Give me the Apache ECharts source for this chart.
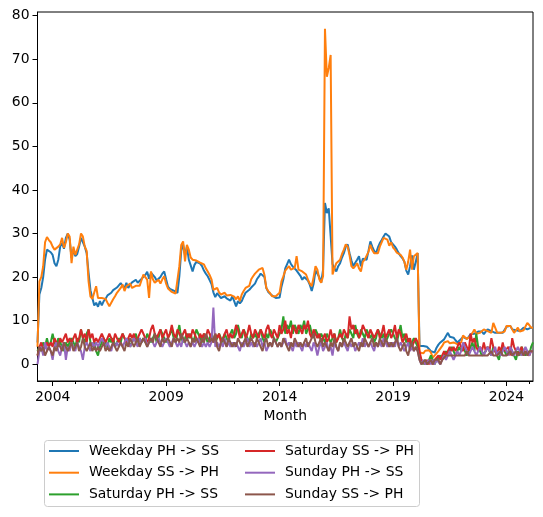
<!DOCTYPE html>
<html>
<head>
    <meta http-equiv="Content-Type" content="text/html; charset=UTF-8" />
    <title>Month</title>
    <script src="https://cdn.jsdelivr.net/npm/echarts@6/dist/echarts.min.js"></script>
    <style>
        html, body { margin: 0; padding: 0; background: #fff; }
    </style>
</head>
<body>
<div id="main" style="width: 543px;height:517px;"></div>
<script type="text/javascript">
    // monthly series, first month 2003-05, last month 2025-03
    var startYear = 2003;
    var startMonth = 5;

    var weekdayPhSs = [
        5, 16, 17.5, 20, 24, 26.3, 26, 25.7,
        25.1, 23.2, 22.5, 24, 27, 27.8, 26.5, 29, 30, 28.6, 24.4, 26.3,
        24.8, 25.3, 27, 29, 28.6, 27, 25.5, 21, 17, 15.2, 13.5, 14.1,
        13.2, 14.5, 13.5, 14.5, 15, 15.8, 15.6, 16.4, 17, 16.8, 17.6, 17.3,
        18.6, 18, 17.5, 18.7, 17.5, 18.3, 18.8, 19, 19.4, 18.7, 19, 19.6,
        20, 20.5, 21.2, 19.6, 21, 21.2, 20, 19.2, 18.9, 20, 20.8, 21.3,
        19.5, 17.8, 17.3, 17, 16.9, 16.6, 16.4, 20.2, 26, 27.5, 25, 27,
        24, 22.7, 21.3, 22.8, 23.5, 23.8, 23.1, 22.5, 21.5, 20.8, 20.2, 19.3,
        18.4, 16.5, 15.4, 16.3, 16, 15.2, 15.4, 15.6, 15.1, 14.8, 14.6, 15.6,
        14.5, 13.3, 14.5, 14, 14.5, 15.5, 16.4, 16.8, 17.1, 17.6, 18, 18.5,
        19.5, 20.1, 20.8, 21.2, 20, 17.5, 16.6, 16.8, 15.8, 15.4, 15.2, 15.2,
        15.3, 17.8, 19.5, 22, 23, 24, 23, 22.4, 22, 21.5, 21.1, 20.3,
        19.4, 20, 20, 19.2, 18.2, 16.8, 18.5, 21.5, 21.4, 20, 18.7, 21.7,
        37, 34.7, 35.8, 36, 23, 22, 21.3, 22.5, 23.2, 24.5, 25.5, 27,
        27.5, 25.5, 23.8, 22.5, 23.3, 24, 24.8, 22.5, 24.2, 24.2, 24, 26,
        28.2, 27, 26, 25.5, 26.8, 27.8, 28.5, 29.3, 30, 30.1, 29.3, 28,
        27.5, 27, 26.3, 25.5, 24.8, 24.3, 23.5, 21.5, 20.6, 22.5, 25, 21.7,
        23.5, 25.5, 4.2, 4.2, 4.2, 4.2, 4, 3.5, 3, 2.8, 2.7, 3.8,
        4.5, 5, 5.3, 5.7, 6.5, 7.2, 6.3, 6.1, 6.1, 5.5, 5, 5.4,
        5.8, 6.3, 6.3, 5.8, 6.3, 6.9, 6.9, 7, 7.2, 7.5, 7.9, 7.5,
        6.9, 7.5, 8, 7.8, 7.6, 7.3, 7.2, 7.2, 7.2, 7.2, 7.2, 7.5,
        8.6, 8.8, 8.8, 8, 7.6, 7.8, 8, 7.6, 7.8, 8.4, 8.2, 8,
        8.2, 8.4, 8.2
    ];
    var weekdaySsPh = [
        4, 19, 20, 22.5, 28, 29.2, 28.5, 28,
        27, 26.3, 26.3, 27, 27.5, 29, 26.7, 28, 30, 29.3, 23.2, 27,
        25.1, 25.3, 27.5, 30, 29.3, 27, 26, 19, 15.5, 15, 15.2, 17.9,
        15.2, 15.2, 15.2, 15.5, 15, 14.1, 13.3, 13.7, 14.9, 15.6, 16.4, 16,
        17.5, 18.3, 16.8, 17.9, 17.8, 18.5, 17.5, 17.9, 18, 18.3, 18, 17.9,
        20.6, 20, 19.4, 15.2, 21.3, 19.5, 18.7, 18.7, 19.4, 18.5, 19.5, 20.2,
        18.5, 17.4, 17, 16.6, 16.4, 16.2, 16, 22.5, 27.4, 28.2, 23.6, 27.4,
        26.3, 24.5, 24, 23.6, 23.8, 24, 23.3, 23, 22.9, 22, 21.3, 20.5,
        19.5, 17.1, 17.3, 17.5, 16.5, 16, 16.2, 16.4, 15.8, 15.6, 15.9, 16,
        15.5, 14.9, 15.6, 14.5, 16, 16.8, 17.5, 17.8, 18, 19.5, 20.2, 20.8,
        21.2, 21.7, 22, 22.1, 20.5, 17.5, 16.8, 16.3, 15.6, 15.6, 15.6, 16,
        16.4, 19, 20.2, 21.5, 22, 22.5, 21.7, 22, 22.1, 24.8, 21.7, 21.7,
        21.3, 21, 20.6, 19.4, 18.5, 17.9, 20, 22.5, 21.7, 19.5, 18.7, 20.2,
        77, 66, 68, 71, 20.6, 22, 23.2, 23.6, 24, 25.3, 26.3, 27.5,
        27, 25, 22.5, 22, 22.5, 23.2, 22, 21.3, 23.5, 24, 24, 25.8,
        27.4, 26.2, 25.5, 25.5, 25.5, 27, 27.2, 29, 28.8, 28.6, 27.2, 28,
        26.8, 26.3, 25.6, 25.5, 25.1, 24.5, 23.5, 21.7, 23.5, 26.3, 21.7, 24.8,
        24.8, 25.5, 2.7, 3.1, 2.5, 3.1, 3.1, 3.2, 2.7, 1.5, 1.1, 2.5,
        3, 3.4, 4.2, 5, 5.2, 5.3, 4.8, 4.7, 5, 4.8, 4.6, 4.8,
        5, 6.6, 7, 5.8, 6, 6.5, 7.2, 8, 7, 6.6, 7.2, 7.5,
        8, 7.8, 7.6, 7.3, 7.2, 9.5, 9.9, 7.3, 7.2, 7.2, 7.2, 7.5,
        8.8, 9.1, 8.8, 8, 7.2, 7.8, 8.4, 7.5, 7.2, 7.8, 8.2, 9.5,
        9, 8.4, 8.4
    ];
    var saturdayPhSs = [
        3, 4, 3, 5, 4, 6, 4, 5,
        7, 5, 4, 6, 5, 4, 3, 5, 4, 5, 6, 5,
        4, 6, 5, 8, 6, 5, 7, 8, 5, 4, 5, 3,
        2, 4, 5, 6, 5, 4, 6, 5, 6, 4, 5, 6,
        5, 7, 6, 5, 6, 4, 5, 6, 7, 5, 6, 5,
        6, 5, 7, 6, 5, 6, 7, 5, 6, 8, 7, 6,
        5, 6, 7, 8, 6, 5, 7, 9, 6, 5, 6, 7,
        6, 7, 5, 6, 8, 7, 6, 5, 7, 6, 5, 6,
        7, 6, 5, 6, 7, 6, 5, 7, 6, 5, 7, 8,
        6, 7, 9, 7, 6, 8, 7, 6, 5, 7, 6, 7,
        6, 7, 8, 6, 5, 7, 6, 8, 7, 6, 5, 6,
        7, 8, 11, 7, 9, 8, 10, 7, 9, 8, 7, 9,
        8, 10, 7, 8, 9, 7, 6, 8, 7, 6, 7, 6,
        5, 7, 6, 5, 6, 7, 5, 6, 8, 6, 5, 7,
        6, 8, 7, 6, 9, 7, 6, 8, 7, 6, 8, 7,
        6, 7, 5, 6, 8, 7, 6, 7, 5, 6, 7, 8,
        7, 6, 5, 7, 9, 6, 7, 5, 6, 4, 5, 6,
        5, 4, 2, 1, 0, 1, 0, 1, 2, 1, 0, 1,
        1, 2, 1, 2, 3, 2, 3, 4, 3, 2, 3, 4,
        3, 4, 3, 2, 3, 4, 5, 3, 7, 4, 3, 2,
        2, 3, 4, 3, 2, 4, 3, 2, 1, 3, 4, 3,
        2, 3, 4, 3, 2, 1, 3, 2, 4, 3, 2, 3,
        2, 4, 5
    ];
    var saturdaySsPh = [
        2, 4, 5, 3, 4, 5, 4, 5,
        4, 6, 5, 4, 6, 5, 6, 7, 5, 6, 5, 6,
        7, 5, 6, 8, 6, 7, 5, 8, 6, 7, 5, 6,
        5, 6, 7, 6, 5, 6, 7, 6, 5, 7, 6, 5,
        6, 7, 6, 5, 6, 7, 6, 7, 5, 6, 7, 8,
        7, 6, 5, 6, 8, 9, 7, 6, 7, 8, 6, 7,
        8, 6, 7, 9, 7, 6, 8, 7, 6, 7, 8, 6,
        7, 6, 8, 7, 6, 5, 7, 6, 7, 6, 8, 7,
        6, 5, 7, 6, 7, 5, 6, 7, 8, 6, 7, 6,
        7, 9, 8, 6, 7, 8, 6, 7, 9, 7, 6, 8,
        7, 6, 8, 7, 6, 8, 9, 7, 6, 8, 7, 6,
        9, 7, 8, 10, 7, 8, 6, 9, 8, 7, 9, 8,
        7, 9, 8, 10, 7, 6, 8, 7, 6, 7, 5, 6,
        7, 5, 6, 8, 6, 7, 5, 6, 7, 6, 8, 7,
        6, 11, 8, 9, 7, 8, 6, 7, 9, 8, 7, 6,
        8, 7, 6, 7, 8, 6, 7, 9, 6, 7, 8, 6,
        7, 9, 6, 8, 7, 5, 6, 7, 5, 6, 4, 5,
        6, 5, 3, 1, 1, 0, 1, 0, 1, 0, 1, 1,
        2, 1, 2, 3, 2, 3, 4, 3, 4, 3, 4, 5,
        4, 3, 5, 4, 3, 7, 5, 6, 4, 3, 4, 3,
        5, 3, 4, 3, 6, 4, 3, 2, 4, 3, 5, 3,
        3, 4, 2, 6, 4, 3, 2, 3, 4, 2, 3, 3,
        2, 3, 3
    ];
    var sundayPhSs = [
        0, 3, 4, 2, 5, 3, 4, 3,
        1, 4, 5, 3, 2, 4, 5, 1, 4, 3, 5, 4,
        3, 5, 4, 3, 1, 4, 5, 4, 3, 5, 4, 5,
        4, 5, 6, 5, 4, 5, 4, 3, 5, 4, 5, 4,
        5, 4, 5, 6, 5, 4, 5, 6, 5, 4, 6, 5,
        5, 6, 4, 5, 6, 5, 4, 5, 6, 5, 4, 5,
        6, 5, 4, 5, 6, 5, 4, 5, 4, 6, 5, 4,
        5, 4, 5, 4, 5, 6, 5, 4, 5, 4, 5, 4,
        5, 13, 4, 5, 4, 5, 4, 6, 4, 5, 4, 5,
        4, 5, 4, 3, 5, 4, 5, 6, 4, 5, 4, 5,
        4, 5, 6, 4, 5, 3, 4, 5, 4, 6, 5, 4,
        5, 4, 5, 6, 4, 5, 4, 3, 5, 4, 5, 4,
        3, 5, 4, 5, 4, 3, 5, 4, 2, 4, 5, 3,
        4, 5, 3, 4, 2, 5, 4, 3, 5, 4, 5, 4,
        3, 5, 4, 5, 3, 4, 5, 4, 6, 4, 5, 4,
        5, 4, 3, 5, 4, 5, 4, 6, 5, 4, 5, 4,
        5, 4, 6, 4, 5, 4, 3, 4, 5, 3, 4, 3,
        4, 3, 1, 0, 1, 0, 0, 1, 0, 1, 0, 1,
        1, 0, 1, 2, 1, 2, 3, 2, 1, 2, 3, 2,
        3, 5, 4, 3, 2, 3, 4, 3, 2, 3, 4, 3,
        2, 3, 4, 3, 2, 3, 4, 2, 3, 2, 3, 4,
        3, 2, 4, 3, 2, 3, 4, 3, 2, 3, 4, 3,
        2, 3, 3
    ];
    var sundaySsPh = [
        2, 4, 3, 4, 2, 3, 4, 3,
        2, 4, 3, 5, 4, 3, 5, 4, 3, 4, 5, 3,
        4, 5, 3, 4, 6, 4, 3, 4, 5, 3, 4, 3,
        4, 3, 4, 5, 3, 4, 3, 4, 5, 4, 3, 4,
        5, 4, 3, 5, 4, 6, 5, 4, 5, 6, 4, 5,
        6, 5, 4, 5, 6, 5, 7, 6, 5, 4, 6, 5,
        5, 6, 5, 4, 6, 5, 6, 5, 7, 6, 5, 6,
        5, 4, 6, 5, 6, 5, 4, 6, 5, 7, 6, 5,
        6, 5, 7, 4, 3, 5, 6, 5, 4, 6, 5, 4,
        5, 4, 6, 5, 4, 5, 6, 4, 5, 6, 5, 4,
        6, 5, 4, 3, 5, 6, 4, 5, 4, 6, 5, 4,
        5, 4, 6, 5, 4, 3, 5, 4, 6, 5, 4, 5,
        4, 5, 6, 4, 5, 6, 7, 5, 4, 5, 6, 4,
        5, 4, 3, 5, 4, 6, 4, 3, 5, 4, 6, 5,
        4, 5, 6, 4, 5, 4, 3, 5, 4, 6, 5, 4,
        5, 6, 4, 5, 4, 6, 5, 4, 6, 5, 4, 5,
        4, 5, 6, 4, 3, 4, 5, 3, 2, 4, 5, 3,
        4, 3, 1, 0, 0, 1, 0, 0, 1, 0, 1, 1,
        1, 0, 1, 1, 2, 2, 2, 2, 2, 2, 2, 2,
        2, 2, 2, 3, 2, 2, 2, 2, 2, 2, 2, 2,
        2, 2, 2, 2, 3, 2, 2, 2, 2, 3, 2, 2,
        2, 2, 3, 2, 2, 3, 2, 2, 3, 2, 3, 2,
        3, 3, 3
    ];

    var seriesNames = ['Weekday PH -> SS', 'Weekday SS -> PH', 'Saturday PH -> SS',
                       'Saturday SS -> PH', 'Sunday PH -> SS', 'Sunday SS -> PH'];
    var seriesValues = [weekdayPhSs, weekdaySsPh, saturdayPhSs, saturdaySsPh, sundayPhSs, sundaySsPh];
    var colors = ['#1f77b4', '#ff7f0e', '#2ca02c', '#d62728', '#9467bd', '#8c564b'];

    var yTicks = [0, 10, 20, 30, 40, 50, 60, 70, 80];
    var xMajorTicks = [2004, 2009, 2014, 2019, 2024];
    var xMinorTicks = [];
    for (var yr = 2004; yr <= 2025; yr++) xMinorTicks.push(yr);

    // month index -> fractional year
    function monthPos(i) {
        return startYear + (startMonth - 1 + i) / 12;
    }
    var nMonths = weekdayPhSs.length;
    var xMin = monthPos(0);
    var xMax = monthPos(nMonths - 1);

    var font = 'DejaVu Sans';
    var myChart = echarts.init(document.getElementById('main'));

    var series = seriesNames.map(function (name, k) {
        return {
            name: name,
            type: 'line',
            xAxisIndex: 0,
            showSymbol: false,
            symbol: 'none',
            animation: false,
            lineStyle: {width: 2, color: colors[k]},
            itemStyle: {color: colors[k]},
            data: seriesValues[k].map(function (v, i) { return [monthPos(i), v]; })
        };
    });

    var legendCommon = {
        orient: 'vertical',
        icon: 'rect',
        itemWidth: 30,
        itemHeight: 2,
        itemGap: 5.7,
        padding: 0,
        selectedMode: false,
        textStyle: {fontFamily: font, fontSize: 13.9, color: '#000', lineHeight: 16, padding: [0, 0, 0, 5]}
    };

    var option = {
        animation: false,
        color: colors,
        textStyle: {fontFamily: font},
        grid: {
            left: 37.5, right: 10, top: 12, bottom: 136,
            show: true, borderColor: '#000', borderWidth: 1, backgroundColor: 'transparent'
        },
        graphic: [{
            type: 'rect',
            z: 0,
            shape: {x: 44.5, y: 440.5, width: 375, height: 66, r: 3},
            style: {fill: '#fff', stroke: '#cccccc', lineWidth: 1}
        }],
        legend: [
            Object.assign({left: 49, top: 443, data: seriesNames.slice(0, 3)}, legendCommon),
            Object.assign({left: 245, top: 443, data: seriesNames.slice(3, 6)}, legendCommon)
        ],
        xAxis: [{
            type: 'value',
            min: xMin,
            max: xMax,
            position: 'bottom',
            name: 'Month',
            nameLocation: 'middle',
            nameGap: 28,
            nameTextStyle: {fontFamily: font, fontSize: 13.9, color: '#000'},
            axisLine: {show: true, onZero: false, lineStyle: {color: '#000', width: 1}},
            axisTick: {show: true, length: 5, customValues: xMajorTicks, lineStyle: {color: '#000'}},
            axisLabel: {customValues: xMajorTicks, margin: 9, fontFamily: font, fontSize: 13.9, color: '#000',
                formatter: function (v) { return String(Math.round(v)); }},
            splitLine: {show: false}
        }, {
            type: 'value',
            min: xMin,
            max: xMax,
            position: 'bottom',
            axisLine: {show: false, onZero: false},
            axisTick: {show: true, length: 3, customValues: xMinorTicks, lineStyle: {color: '#000'}},
            axisLabel: {show: false},
            splitLine: {show: false}
        }],
        yAxis: {
            type: 'value',
            min: -3.85,
            max: 80.85,
            axisLine: {show: true, onZero: false, lineStyle: {color: '#000', width: 1}},
            axisTick: {show: true, length: 5, customValues: yTicks, lineStyle: {color: '#000'}},
            axisLabel: {customValues: yTicks, margin: 8, fontFamily: font, fontSize: 13.9, color: '#000'},
            splitLine: {show: false}
        },
        series: series
    };

    myChart.setOption(option);
</script>
</body>
</html>
